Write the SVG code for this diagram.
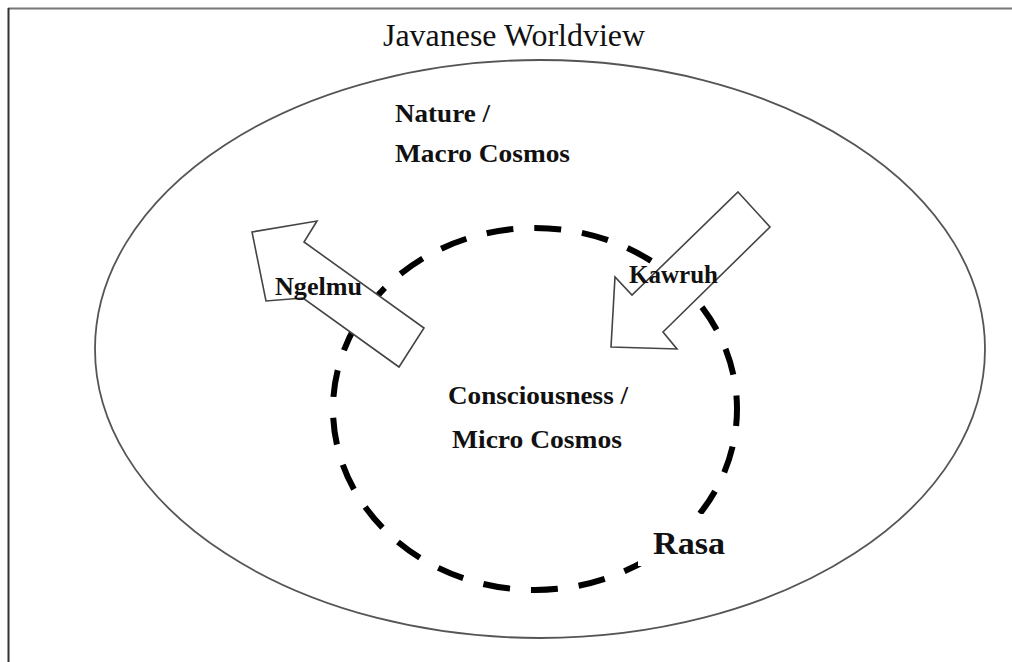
<svg xmlns="http://www.w3.org/2000/svg" width="1012" height="662" viewBox="0 0 1012 662">
  <style>
    .lbl { font-family: "Liberation Serif", "Times New Roman", serif; fill: #111; }
    .b { font-weight: bold; }
    .arrow { fill: #fff; stroke: #444; stroke-width: 1.6; stroke-linejoin: miter; }
  </style>
  <rect x="0" y="0" width="1012" height="662" fill="#fff"/>
  <g id="frame">
    <line x1="8" y1="8.5" x2="1012" y2="8.5" stroke="#777" stroke-width="2"/>
    <line x1="8.5" y1="8" x2="8.5" y2="662" stroke="#333" stroke-width="2"/>
  </g>
  <g id="title">
    <text class="lbl" x="383" y="46" font-size="32" textLength="262" lengthAdjust="spacingAndGlyphs">Javanese Worldview</text>
  </g>
  <g id="macrocosmos">
    <ellipse cx="540" cy="349" rx="445" ry="289" fill="none" stroke="#555" stroke-width="1.8"/>
    <text class="lbl b" x="395" y="122" font-size="26" textLength="95" lengthAdjust="spacingAndGlyphs">Nature /</text>
    <text class="lbl b" x="395" y="162" font-size="26" textLength="175" lengthAdjust="spacingAndGlyphs">Macro Cosmos</text>
  </g>
  <g id="microcosmos">
    <ellipse cx="535" cy="409" rx="202" ry="181" fill="none" stroke="#000" stroke-width="6" stroke-dasharray="27 21" stroke-dashoffset="10"/>
    <text class="lbl b" x="448" y="404" font-size="26" textLength="180" lengthAdjust="spacingAndGlyphs">Consciousness /</text>
    <text class="lbl b" x="452" y="448" font-size="26" textLength="170" lengthAdjust="spacingAndGlyphs">Micro Cosmos</text>
  </g>
  <g id="connectors">
    <g id="ngelmu">
      <polygon class="arrow" points="252,232 317,221 304,242 424,328 399,367 303,298 266,301"/>
      <text class="lbl b" x="275" y="295" font-size="25" textLength="87" lengthAdjust="spacingAndGlyphs">Ngelmu</text>
    </g>
    <g id="kawruh">
      <polygon class="arrow" points="738,192 770,227 663,332 677,349 611,347 615,277 632,295"/>
      <text class="lbl b" x="629" y="283" font-size="25" textLength="89" lengthAdjust="spacingAndGlyphs">Kawruh</text>
    </g>
  </g>
  <g id="rasa">
    <rect x="638" y="514" width="100" height="52" fill="#fff"/>
    <text class="lbl b" x="653" y="554" font-size="32" textLength="72" lengthAdjust="spacingAndGlyphs">Rasa</text>
  </g>
</svg>
